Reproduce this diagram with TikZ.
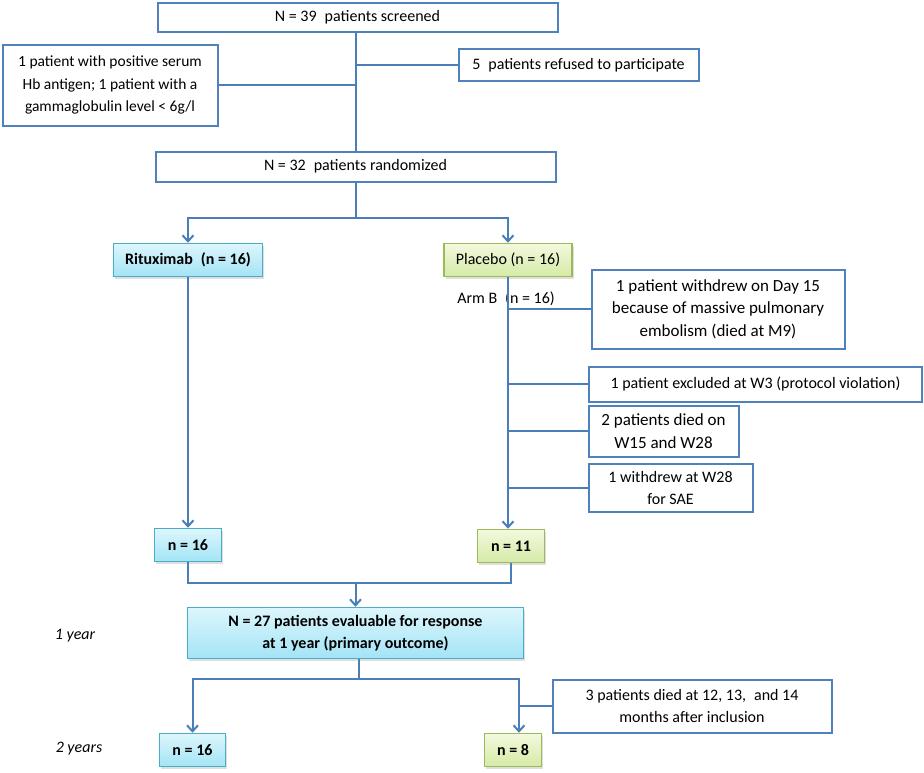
\documentclass[tikz,border=0pt]{standalone}
\usepackage{fontspec}
\setmainfont{Carlito}
\usetikzlibrary{arrows.meta, shadows}
\definecolor{boxblue}{HTML}{4F81BD}
\definecolor{lineblue}{HTML}{4A7EBB}
\definecolor{cyanedge}{HTML}{4BACC6}
\definecolor{cyantop}{HTML}{DDF6FC}
\definecolor{cyanbot}{HTML}{A3E4F6}
\definecolor{greenedge}{HTML}{9BBB59}
\definecolor{greentop}{HTML}{F3F9DE}
\definecolor{greenbot}{HTML}{D5EAA6}

\begin{document}
\begin{tikzpicture}[
    % GLOBAL CFG
    x=1pt, y=-1pt,
    font=\fontsize{16}{22.5}\selectfont,
    >={Straight Barb[length=6pt, width=11pt]},
    % Styles
    plainbox/.style={% For white boxes
        rectangle,
        draw=boxblue,
        line width=2pt,
        fill=white,
        inner sep=2pt,
        align=center,
    },
    armA/.style={% For rituximab arm boxes
        rectangle,
        draw=cyanedge,
        line width=1.5pt,
        top color=cyantop,
        bottom color=cyanbot,
        drop shadow={opacity=0.25, shadow xshift=1.5pt, shadow yshift=-2pt},
        font=\fontsize{16}{22.5}\selectfont\bfseries,
        inner sep=2pt,
        align=center,
    },
    armB/.style={% For placebo arm boxes
        rectangle,
        draw=greenedge,
        line width=1.5pt,
        top color=greentop,
        bottom color=greenbot,
        drop shadow={opacity=0.25, shadow xshift=1.5pt, shadow yshift=-2pt},
        inner sep=2pt,
        align=center,
    },
    bigtext/.style={% For the larger withdrawal texts
        font=\fontsize{17}{22.5}\selectfont
    },
    period/.style={% For time labels
        font=\fontsize{16}{22.5}\selectfont\itshape
    },
    link/.style={% Connectors
        draw=lineblue,
        line width=2pt,
    },
    ]

    \fill[white] (0,0) rectangle (924,772);
    \useasboundingbox (0,0) rectangle (924,772);

    % Draw screening and randomization
    \node [plainbox, minimum width=400pt, minimum height=29pt] (scr) at (357.5,17) {N = 39\enspace patients screened};
    \node [plainbox, minimum width=215pt, minimum height=81pt, font=\fontsize{15.5}{22.5}\selectfont] (excl) at (110,85) {1 patient with positive serum\\ Hb antigen; 1 patient with a\\ gammaglobulin level < 6g/l};
    \node [plainbox, minimum width=240pt, minimum height=32pt] (refus) at (578.5,65) {5\enspace patients refused to participate};
    \node [plainbox, minimum width=400pt, minimum height=30pt] (rand) at (355.5,166.5) {N = 32\enspace patients randomized};

    % Draw arms
    \node [armA, minimum width=149pt, minimum height=33pt] (ritux) at (188,260) {Rituximab\enspace(n = 16)};
    \node [armB, minimum width=128pt, minimum height=33pt] (plac) at (508,260) {Placebo (n = 16)};
    \node (armb) at (506,299) {Arm B\enspace(n = 16)};

    % Draw withdrawals named pw#
    \node [plainbox, bigtext, minimum width=253pt, minimum height=79pt] (pw1) at (718,309) {1 patient withdrew on Day 15\\ because of massive pulmonary\\ embolism (died at M9)};
    \node [plainbox, minimum width=333pt, minimum height=35pt] (pw2) at (755.5,384) {1 patient excluded at W3 (protocol violation)};
    \node [plainbox, bigtext, minimum width=150pt, minimum height=51pt] (pw3) at (663.5,431) {2 patients died on\\ W15 and W28};
    \node [plainbox, minimum width=164pt, minimum height=48pt] (pw4) at (670.5,488) {1 withdrew at W28\\ for SAE};

    % Draw counts at 1 year
    \node [armA, minimum width=67pt, minimum height=33pt] (ritux1) at (188,545) {n = 16};
    \node [armB, minimum width=67pt, minimum height=33pt, font=\fontsize{16}{22.5}\selectfont\bfseries] (plac1) at (511,546) {n = 11};
    \node [armA, minimum width=336pt, minimum height=51pt] (resp) at (355.5,633) {N = 27 patients evaluable for response\\ at 1 year (primary outcome)};

    % Draw counts at 2 years
    \node [armA, minimum width=66pt, minimum height=33pt] (ritux2) at (192.5,750) {n = 16};
    \node [armB, minimum width=57pt, minimum height=33pt, font=\fontsize{16}{22.5}\selectfont\bfseries] (plac2) at (513,750) {n = 8};
    \node [plainbox, minimum width=279pt, minimum height=53pt] (died) at (692,706) {3 patients died at 12, 13,\enspace and 14\\ months after inclusion};

    % Time labels
    \node [period] (yr1) at (75,636) {1 year};
    \node [period] (yr2) at (79,749) {2 years};

    % Connect all
    \coordinate (split1) at (355.5,218);
    \coordinate (merge1) at (355.5,583);
    \coordinate (split2) at (359,679);
    \coordinate (split2r) at (519,679);

    % Screening
    \draw [link] (rand.north) -- (rand.north |- scr.south);
    \draw [link] (excl.east) -- (excl.east -| rand.north);
    \draw [link] (refus.west) -- (refus.west -| rand.north);

    % Randomization
    \draw [link] (rand.south) -- (split1);
    \draw [link, ->] (split1) -| (ritux.north);
    \draw [link, ->] (split1) -| (plac.north);

    % Follow-up
    \draw [link, ->] (ritux.south) -- (ritux.south |- ritux1.north);
    \draw [link, ->] (plac.south) -- (plac.south |- plac1.north);
    \draw [link] (pw1.west) -- (pw1.west -| plac.south);
    \draw [link] (pw2.west) -- (pw2.west -| plac.south);
    \draw [link] (pw3.west) -- (pw3.west -| plac.south);
    \draw [link] (pw4.west) -- (pw4.west -| plac.south);

    % Merge at 1 year
    \draw [link] (ritux1.south) |- (merge1) -| (plac1.south);
    \draw [link, ->] (merge1) -- (resp.north);

    % Split at 2 years
    \draw [link] (resp.south -| split2) -- (split2);
    \draw [link, ->] (split2) -| (ritux2.north);
    \draw [link, ->] (split2) -- (split2r) -- (split2r |- plac2.north);
    \draw [link] (died.west) -- (died.west -| split2r);

\end{tikzpicture}
\end{document}
